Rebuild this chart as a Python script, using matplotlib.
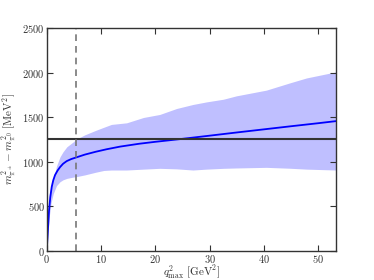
import numpy as np
import matplotlib
matplotlib.use("Agg")
import matplotlib.pyplot as plt
from matplotlib.ticker import FuncFormatter

plt.rcParams['mathtext.fontset'] = 'cm'
plt.rcParams['font.family'] = 'serif'
plt.rcParams['font.serif'] = ['DejaVu Serif']

# central curve
q_c = [0, 0.1, 0.24, 0.42, 0.65, 0.92, 1.2, 1.53, 2.0, 2.45, 3.0, 3.67, 4.5, 5.4, 7.0, 9.0, 11.0, 13.5, 17.0, 20.0, 24.5, 30.0, 35.0, 40.0, 45.0, 50.0, 53.2]
m_c = [0, 110, 260, 450, 600, 717, 790, 849, 900, 938, 975, 1005, 1028, 1046, 1078, 1110, 1138, 1168, 1200, 1222, 1252, 1291, 1327, 1362, 1397, 1431, 1454]

# uncertainty band
q_b = [0, 0.1, 0.25, 0.5, 0.8, 1.2, 1.8, 2.45, 3.0, 3.7, 4.9, 5.4, 7.0, 9.0, 10.5, 11.9, 14.7, 17.8, 20.8, 23.9, 26.9, 29.4, 32.5, 34.9, 40.4, 44.7, 47.8, 53.2]
m_up = [0, 300, 480, 640, 730, 800, 950, 1054, 1110, 1166, 1222, 1250, 1300, 1350, 1385, 1417, 1435, 1495, 1529, 1596, 1641, 1670, 1700, 1738, 1802, 1883, 1939, 2007]
m_lo = [0, 90, 220, 400, 540, 640, 730, 774, 795, 811, 826, 830, 850, 880, 900, 905, 905, 915, 924, 918, 905, 915, 924, 928, 935, 925, 915, 905]

q_cut = 5.4
m_ref = 1252

x_ticks = [0, 10, 20, 30, 40, 50]
y_ticks = [0, 500, 1000, 1500, 2000, 2500]

fig = plt.figure(figsize=(3.74, 2.8), dpi=100)
ax = fig.add_axes([0.125, 0.105, 0.773, 0.795])

ax.fill_between(q_b, m_lo, m_up, color='#bfbfff', linewidth=0)
ax.plot(q_c, m_c, color='#0000ff', lw=1.3)
ax.axhline(m_ref, color='#333333', lw=1.5)
ax.axvline(q_cut, color='#777777', lw=1.2, ls=(0, (4, 3)))

ax.set_xlim(0, 53.2)
ax.set_ylim(0, 2500)
ax.set_xticks(x_ticks)
ax.set_yticks(y_ticks)
fmt = FuncFormatter(lambda v, p: r'$%d$' % int(round(v)))
ax.xaxis.set_major_formatter(fmt)
ax.yaxis.set_major_formatter(fmt)
ax.tick_params(direction='in', top=True, right=True, length=4, width=0.8,
               labelsize=7.5, colors='#333333', labelcolor='#333333', pad=1.5)
for s in ax.spines.values():
    s.set_linewidth(1.0)
    s.set_color('#333333')

ax.set_xlabel(r'$q^2_{\mathrm{max}}\ [\mathrm{GeV}^2]$', fontsize=8, labelpad=-1, color='#333333')
ax.set_ylabel(r'$m^2_{\pi^\pm} - m^2_{\pi^0}\ [\mathrm{MeV}^2]$', fontsize=8, labelpad=3, color='#333333')

fig.savefig('out.png', dpi=100)
